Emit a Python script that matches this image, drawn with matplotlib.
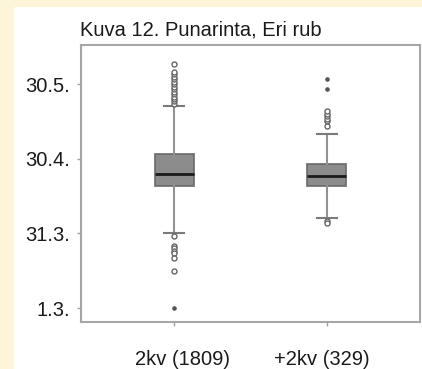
import matplotlib
matplotlib.use("Agg")
import matplotlib.pyplot as plt
import matplotlib.transforms as mtransforms
from matplotlib.patches import Rectangle

plt.rcParams['font.family'] = ['Liberation Sans', 'DejaVu Sans']

# ryhmät ja laatikkojen tunnusluvut (päivä vuoden alusta)
groups = ["2kv (1809)", "+2kv (329)"]
q1 = [109, 109]
median = [114, 113]
q3 = [122, 118]
whisker_low = [90, 96]
whisker_high = [141, 130]

# poikkeavat havainnot (ympyrät) ja ääriarvot (pisteet)
outliers_1 = [142, 143, 144, 145, 146, 147, 148, 149, 150, 151, 152, 153,
              154, 155, 158, 89, 85, 84, 83, 82, 80, 75]
outliers_2 = [133, 135, 136, 137, 138, 139, 95, 94]
extremes_1 = [60]
extremes_2 = [148, 152]

# y-akselin päivämäärät
date_days = [60, 90, 120, 150]
date_labels = ["1.3.", "31.3.", "30.4.", "30.5."]

cream = "#fcf5da"
fig = plt.figure(figsize=(4.22, 3.69), dpi=100, facecolor="white")
fig.patches.append(Rectangle((0, 0), 13 / 422, 1, transform=fig.transFigure,
                             color=cream, zorder=-10))
fig.patches.append(Rectangle((0, 1 - 6 / 369), 1, 6 / 369, transform=fig.transFigure,
                             color=cream, zorder=-10))

ax = fig.add_axes([81 / 422, 47 / 369, 339 / 422, 277 / 369])

outliers = [outliers_1, outliers_2]
stats = []
for i, name in enumerate(groups):
    stats.append(dict(label=name, q1=q1[i], med=median[i], q3=q3[i],
                      whislo=whisker_low[i], whishi=whisker_high[i],
                      fliers=outliers[i]))

ax.bxp(stats, positions=[1, 2], widths=0.255, patch_artist=True,
       boxprops=dict(facecolor="#8c8c8c", edgecolor="#6a6a6a", linewidth=1.2),
       medianprops=dict(color="#1a1a1a", linewidth=2),
       whiskerprops=dict(color="#929292", linewidth=1.5),
       capprops=dict(color="#7a7a7a", linewidth=1.5),
       flierprops=dict(marker="o", markersize=3.6, markerfacecolor="white",
                       markeredgecolor="#666666", markeredgewidth=1.0))

for pos, ext in zip([1, 2], [extremes_1, extremes_2]):
    ax.plot([pos] * len(ext), ext, linestyle="none", marker="o",
            markersize=2.3, color="#555555")

ax.set_xlim(0.392, 2.608)
ax.set_ylim(54.4, 165.7)
ax.set_yticks(date_days)
ax.set_yticklabels(date_labels)
ax.set_xticks([1, 2])
ax.set_xticklabels(groups)

for s in ax.spines.values():
    s.set_color("#a6a6a6")
    s.set_linewidth(1.5)
ax.tick_params(axis="y", length=3, width=1, color="#a0a0a0", pad=5,
               labelsize=14.5, labelcolor="#1a1a1a")
ax.tick_params(axis="x", length=3, width=1, color="#a0a0a0", pad=17,
               labelsize=14.5, labelcolor="#1a1a1a")

# ryhmien nimet hieman sivuun tikeistä
for lab, dx in zip(ax.get_xticklabels(), [8, -5]):
    lab.set_transform(lab.get_transform() +
                      mtransforms.ScaledTranslation(dx / 100, 0, fig.dpi_scale_trans))

fig.text(80 / 422, 1 - 35 / 369, "Kuva 12. Punarinta, Eri rub",
         fontsize=14.5, color="#1a1a1a", va="baseline", ha="left")

fig.savefig("out.png", dpi=100, facecolor=fig.get_facecolor())
